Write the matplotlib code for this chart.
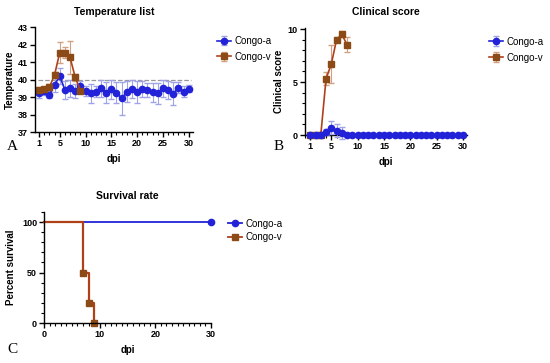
import numpy as np
import matplotlib
matplotlib.use('Agg')
import matplotlib.pyplot as plt
from matplotlib.ticker import MultipleLocator, FixedLocator

plt.rcParams['font.family'] = ['Liberation Sans', 'DejaVu Sans']

# ---- data ----
days = np.arange(1, 31)
temp_a = [39.23, 39.34, 39.13, 39.72, 40.2, 39.42, 39.5, 39.36, 39.65, 39.34,
          39.23, 39.32, 39.5, 39.25, 39.46, 39.25, 38.93, 39.3, 39.46, 39.29,
          39.48, 39.4, 39.27, 39.23, 39.5, 39.4, 39.2, 39.55, 39.32, 39.48]
temp_a_err = [0.3, 0.2, 0.15, 0.4, 0.45, 0.5, 0.5, 0.4, 0.3, 0.3,
              0.55, 0.3, 0.5, 0.6, 0.55, 0.6, 0.95, 0.6, 0.5, 0.65,
              0.45, 0.4, 0.55, 0.6, 0.5, 0.5, 0.65, 0.3, 0.3, 0.2]
days_v = np.arange(1, 10)
temp_v = [39.4, 39.45, 39.57, 40.28, 41.55, 41.55, 41.27, 40.14, 39.38]
temp_v_err = [0.2, 0.15, 0.2, 0.15, 0.6, 0.3, 0.95, 0.2, 0.15]

score_a = [0, 0, 0, 0.3, 0.7, 0.4, 0.2] + [0] * 23
score_a_err = [0, 0, 0, 0.3, 0.6, 0.6, 0.6] + [0] * 23
days_sv = np.arange(1, 9)
score_v = [0, 0, 0, 5.3, 6.7, 9.0, 9.5, 8.5]
score_v_err = [0, 0, 0, 0.6, 1.8, 0.2, 0.3, 0.7]

surv_a_t = [0, 30]
surv_a = [100, 100]
surv_v_t = [0, 7, 8, 9]
surv_v = [100, 50, 20, 0]

blue = '#2222d8'
brown = '#8b4a16'
brown_line = '#b0401a'
blue_err = '#a0a4e6'
brown_err = '#d0a080'

fig = plt.figure(figsize=(5.5, 3.63), dpi=100)


def style(ax):
    for s in ['top', 'right']:
        ax.spines[s].set_visible(False)
    for s in ['left', 'bottom']:
        ax.spines[s].set_linewidth(1.0)
    ax.tick_params(labelsize=6.5, width=1.0, length=3.5, pad=1.5)
    ax.tick_params(which='minor', width=0.8, length=2)
    for lab in ax.get_xticklabels() + ax.get_yticklabels():
        lab.set_fontweight('bold')


leg_kw = dict(loc='upper left', frameon=False, fontsize=7, handlelength=1.4,
              handletextpad=0.4)

# ---- A: temperature ----
ax1 = fig.add_axes([0.0636, 0.636, 0.287, 0.289])
ax1.axhline(40, xmin=0.02, xmax=0.99, color='#999999', ls='--', lw=0.9)
ax1.errorbar(days, temp_a, yerr=temp_a_err, color=blue, ecolor=blue_err,
             elinewidth=0.8, capsize=2, marker='o', ms=4.5, lw=1.2, label='Congo-a')
ax1.errorbar(days_v, temp_v, yerr=temp_v_err, color=brown_line, ecolor=brown_err,
             elinewidth=0.8, capsize=2, marker='s', ms=4.5, mfc=brown, mec=brown,
             lw=1.2, label='Congo-v')
ax1.set_xlim(0.2, 30.8)
ax1.set_ylim(37, 43)
ax1.xaxis.set_major_locator(FixedLocator([1, 5, 10, 15, 20, 25, 30]))
ax1.xaxis.set_minor_locator(MultipleLocator(1))
ax1.yaxis.set_major_locator(MultipleLocator(1))
ax1.set_title('Temperature list', fontsize=7.5, fontweight='bold', pad=9)
ax1.set_xlabel('dpi', fontsize=7, fontweight='bold', labelpad=4)
ax1.set_ylabel('Temperature', fontsize=7, fontweight='bold', labelpad=2)
style(ax1)
ax1.legend(bbox_to_anchor=(1.1, 1.0), labelspacing=0.6, **leg_kw)

# ---- B: clinical score ----
ax2 = fig.add_axes([0.5545, 0.628, 0.295, 0.295])
ax2.errorbar(days_sv, score_v, yerr=score_v_err, color=brown_line, ecolor=brown_err,
             elinewidth=0.8, capsize=2, marker='s', ms=4.5, mfc=brown, mec=brown,
             lw=1.2, label='Congo-v', clip_on=False, zorder=2)
ax2.errorbar(days, score_a, yerr=score_a_err, color=blue, ecolor=blue_err,
             elinewidth=0.8, capsize=2, marker='o', ms=4.5, lw=1.2, label='Congo-a',
             clip_on=False, zorder=3)
ax2.set_xlim(0, 30.8)
ax2.set_ylim(0, 10.1)
ax2.xaxis.set_major_locator(FixedLocator([1, 5, 10, 15, 20, 25, 30]))
ax2.xaxis.set_minor_locator(MultipleLocator(1))
ax2.yaxis.set_major_locator(FixedLocator([0, 5, 10]))
ax2.yaxis.set_minor_locator(MultipleLocator(1))
ax2.set_title('Clinical score', fontsize=7.5, fontweight='bold', pad=9)
ax2.set_xlabel('dpi', fontsize=7, fontweight='bold', labelpad=4)
ax2.set_ylabel('Clinical score', fontsize=7, fontweight='bold', labelpad=3)
style(ax2)
h, l = ax2.get_legend_handles_labels()
ax2.legend(h[::-1], l[::-1], bbox_to_anchor=(1.08, 1.0), labelspacing=0.6, **leg_kw)

# ---- C: survival ----
ax3 = fig.add_axes([0.08, 0.110, 0.3036, 0.306])
ax3.step(surv_a_t, surv_a, where='post', color=blue, lw=1.3, clip_on=False)
ax3.plot(surv_a_t[-1:], surv_a[-1:], 'o', color=blue, ms=4.5, clip_on=False)
ax3.step(surv_v_t, surv_v, where='post', color=brown_line, lw=1.6, clip_on=False)
ax3.plot(surv_v_t[1:], surv_v[1:], 's', color=brown, ms=4.5, clip_on=False)
ax3.plot([], [], color=blue, marker='o', ms=4.5, lw=1.3, label='Congo-a')
ax3.plot([], [], color=brown_line, marker='s', mfc=brown, mec=brown, ms=4.5, lw=1.3,
         label='Congo-v')
ax3.set_xlim(0, 30)
ax3.set_ylim(0, 110)
ax3.xaxis.set_major_locator(MultipleLocator(10))
ax3.xaxis.set_minor_locator(MultipleLocator(1))
ax3.yaxis.set_major_locator(FixedLocator([0, 50, 100]))
ax3.yaxis.set_minor_locator(MultipleLocator(10))
ax3.set_title('Survival rate', fontsize=7.5, fontweight='bold', pad=9)
ax3.set_xlabel('dpi', fontsize=7, fontweight='bold', labelpad=4)
ax3.set_ylabel('Percent survival', fontsize=7, fontweight='bold', labelpad=4)
style(ax3)
ax3.legend(bbox_to_anchor=(1.05, 1.02), labelspacing=0.4, **leg_kw)

# panel letters
for x, y, t in [(0.012, 0.588, 'A'), (0.497, 0.588, 'B'), (0.014, 0.028, 'C')]:
    fig.text(x, y, t, fontsize=11, family='Liberation Serif')

fig.savefig('out.png', dpi=100)
